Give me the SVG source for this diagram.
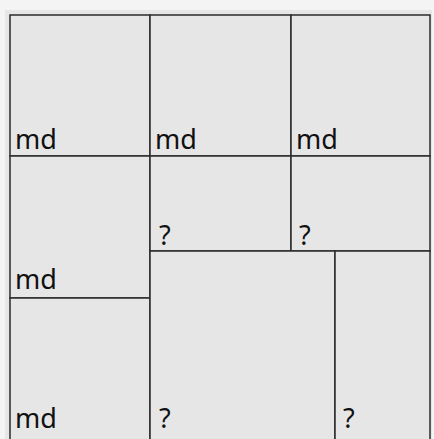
<svg xmlns="http://www.w3.org/2000/svg" width="434" height="439" viewBox="0 0 434 439">
<style>
.cell{fill:#e6e6e6;stroke:#2b2b2b;stroke-width:1.5}
.lbl{font-family:"Noto Sans","Open Sans","DejaVu Sans",sans-serif;font-size:27px;fill:#111}
</style>
<rect x="0" y="0" width="434" height="439" fill="#f4f4f4"/>
<rect x="5" y="10" width="427" height="440" fill="#e6e6e6"/>
<g id="n1"><rect class="cell" x="10" y="15" width="140" height="141"/><text class="lbl" x="15" y="149">md</text></g>
<g id="n2"><rect class="cell" x="150" y="15" width="141" height="141"/><text class="lbl" x="155" y="149">md</text></g>
<g id="n3"><rect class="cell" x="291" y="15" width="139" height="141"/><text class="lbl" x="296" y="149">md</text></g>
<g id="n4"><rect class="cell" x="10" y="156" width="140" height="142"/><text class="lbl" x="15" y="289">md</text></g>
<g id="n5"><rect class="cell" x="10" y="298" width="140" height="152"/><text class="lbl" x="15" y="428">md</text></g>
<g id="n6"><rect class="cell" x="150" y="156" width="141" height="95"/><text class="lbl" x="159" y="245">?</text></g>
<g id="n7"><rect class="cell" x="291" y="156" width="139" height="95"/><text class="lbl" x="299" y="245">?</text></g>
<g id="n8"><rect class="cell" x="150" y="251" width="185" height="199"/><text class="lbl" x="159" y="428">?</text></g>
<g id="n9"><rect class="cell" x="335" y="251" width="95" height="199"/><text class="lbl" x="343" y="428">?</text></g>
<g id="connectors"></g>
</svg>
